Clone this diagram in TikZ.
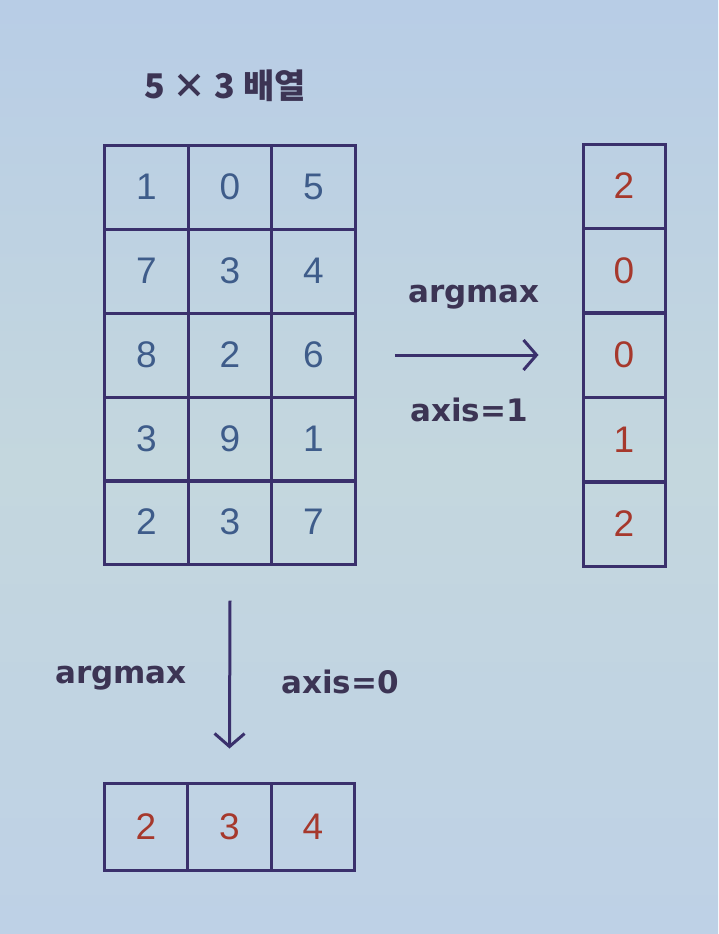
\documentclass[tikz,border=0pt]{standalone}
\usepackage{fontspec}
\setmainfont{Liberation Sans}
\newfontfamily\krfont{Noto Sans CJK KR}
\newfontfamily\lblfont{DejaVu Sans}
\usetikzlibrary{arrows.meta}
\definecolor{bgtop}{RGB}{184,205,230}
\definecolor{bgmid}{RGB}{196,215,222}
\definecolor{bgbot}{RGB}{190,209,230}
\definecolor{edge}{RGB}{58,48,108}
\definecolor{numblue}{RGB}{62,92,138}
\definecolor{resred}{RGB}{166,56,44}
\definecolor{ink}{RGB}{60,52,84}
\tikzset{
  cell/.style={draw=edge,line width=3pt,minimum width=83.5pt,minimum height=84pt,inner sep=0pt,
    text=numblue,font=\fontsize{37}{37}\selectfont},
  rescell/.style={cell,text=resred},
  lbl/.style={text=ink,font=\lblfont\bfseries\fontsize{31}{31}\selectfont},
}
\begin{document}
\begin{tikzpicture}[x=1pt,y=-1pt,>={Straight Barb[length=13pt,width=30pt]}]
\shade[top color=bgtop,bottom color=bgbot,middle color=bgmid] (0,0) rectangle (718,934);
\useasboundingbox (0,0) rectangle (718,934);
\node[text=ink,font=\krfont\bfseries\fontsize{34}{34}\selectfont] (title) at (225,86) {5 × 3 배열};
% 5 x 3 array
\node[cell] (m11) at (146.5,187) {1};
\node[cell] (m12) at (230,187) {0};
\node[cell] (m13) at (313.5,187) {5};
\node[cell] (m21) at (146.5,271) {7};
\node[cell] (m22) at (230,271) {3};
\node[cell] (m23) at (313.5,271) {4};
\node[cell] (m31) at (146.5,355) {8};
\node[cell] (m32) at (230,355) {2};
\node[cell] (m33) at (313.5,355) {6};
\node[cell] (m41) at (146.5,439) {3};
\node[cell] (m42) at (230,439) {9};
\node[cell] (m43) at (313.5,439) {1};
\node[cell] (m51) at (146.5,522) {2};
\node[cell] (m52) at (230,522) {3};
\node[cell] (m53) at (313.5,522) {7};
% argmax along axis=1
\node[rescell,minimum width=82pt] (r1) at (624,186) {2};
\node[rescell,minimum width=82pt] (r2) at (624,270.5) {0};
\node[rescell,minimum width=82pt] (r3) at (624,355) {0};
\node[rescell,minimum width=82pt] (r4) at (624,439.5) {1};
\node[rescell,minimum width=82pt] (r5) at (624,524) {2};
% argmax along axis=0
\node[rescell,minimum height=87pt] (b1) at (146,826.5) {2};
\node[rescell,minimum height=87pt] (b2) at (229.5,826.5) {3};
\node[rescell,minimum height=87pt] (b3) at (313,826.5) {4};
\draw[edge,line width=3pt,->] ([xshift=38pt]m33.east) -- ([xshift=-43pt]r3.west);
\draw[edge,line width=3pt,->] ([yshift=-35pt]m52.south) -- ([yshift=33pt]b2.north);
\node[lbl] (lbl1) at (474,297) {argmax};
\node[lbl] (lbl2) at (469,410) {axis=1};
\node[lbl] (lbl3) at (121,678) {argmax};
\node[lbl] (lbl4) at (340,682) {axis=0};
\end{tikzpicture}
\end{document}
